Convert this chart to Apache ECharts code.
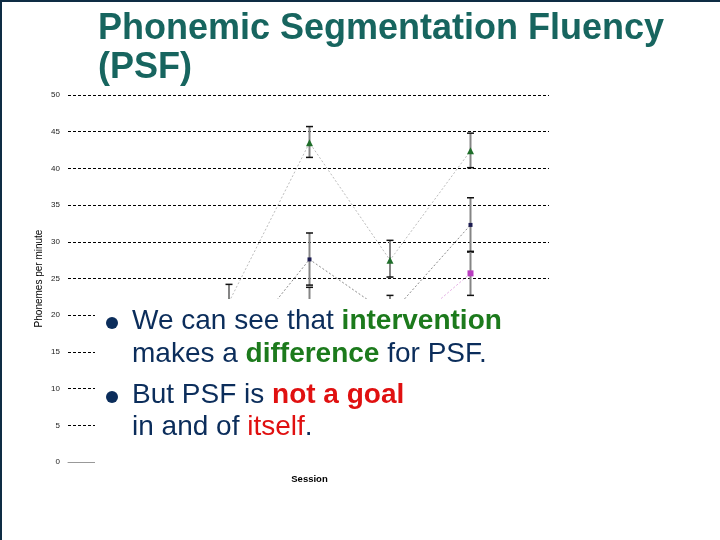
<!DOCTYPE html>
<html>
<head>
<meta charset="utf-8">
<script src="https://cdn.jsdelivr.net/npm/echarts@6/dist/echarts.min.js"></script>
<style>
html,body{margin:0;padding:0;background:#fff;}
#chart{width:720px;height:540px;}
</style>
</head>
<body>
<div id="chart"></div>
<script>
// ---- data ----
const sessions = [2, 3, 4, 5];
const yTicks = [0, 5, 10, 15, 20, 25, 30, 35, 40, 45, 50];

const greenMean = [21.8, 43.5, 27.5, 42.4];
const greenLow  = [19.0, 41.5, 25.2, 40.1];
const greenHigh = [24.2, 45.7, 30.2, 44.8];

const navyMean = [14.0, 27.6, 20.0, 32.3];
const navyLow  = [11.0, 24.1, 17.3, 28.6];
const navyHigh = [17.0, 31.2, 22.7, 36.0];

const purpleMean = [12.0, 20.0, 16.3, 25.7];
const purpleLow  = [9.0, 17.0, 13.0, 22.7];
const purpleHigh = [15.0, 23.8, 19.5, 28.7];

const titleLines = ['Phonemic Segmentation Fluency', '(PSF)'];
const yAxisName = 'Phonemes per minute';
const xAxisName = 'Session';

// ---- build ----
const chart = echarts.init(document.getElementById('chart'), null, {renderer: 'canvas'});

function pairs(xs, ys) { return xs.map((x, i) => [x, ys[i]]); }
function errData(xs, lo, hi) { return xs.map((x, i) => [x, lo[i], hi[i]]); }

function errorSeries(name, xs, lo, hi) {
  return {
    name: name,
    type: 'custom',
    z: 3,
    data: errData(xs, lo, hi),
    renderItem: function (params, api) {
      const x = api.value(0);
      const pLo = api.coord([x, api.value(1)]);
      const pHi = api.coord([x, api.value(2)]);
      const w = 3.5;
      return {
        type: 'group',
        children: [
          {type: 'line', shape: {x1: pLo[0], y1: pLo[1], x2: pHi[0], y2: pHi[1]},
           style: {stroke: '#858585', lineWidth: 2}},
          {type: 'line', shape: {x1: pHi[0] - w, y1: pHi[1], x2: pHi[0] + w, y2: pHi[1]},
           style: {stroke: '#111', lineWidth: 1.5}},
          {type: 'line', shape: {x1: pLo[0] - w, y1: pLo[1], x2: pLo[0] + w, y2: pLo[1]},
           style: {stroke: '#111', lineWidth: 1.5}}
        ]
      };
    }
  };
}

function lineSeries(name, data, lineColor, symbol, size, symColor) {
  return {
    name: name,
    type: 'line',
    z: 4,
    data: data,
    symbol: symbol,
    symbolSize: size,
    itemStyle: {color: symColor},
    lineStyle: {color: lineColor, width: 1, type: [2, 2]},
    animation: false
  };
}

const bodyFont = 'Liberation Sans, Arial, sans-serif';
const navyText = '#0b2d5b';
const greenText = '#1c7a1c';
const redText = '#e01010';
const fs = 28;
const off = 0.3465 * fs;

function richLine(x, baseline, text) {
  return {
    type: 'text', x: x, y: baseline - off, z: 101,
    style: {
      text: text,
      verticalAlign: 'middle',
      font: fs + 'px ' + bodyFont,
      fill: navyText,
      rich: {
        n: {fontSize: fs, fontFamily: bodyFont, fill: navyText},
        g: {fontSize: fs, fontFamily: bodyFont, fill: greenText, fontWeight: 'bold'},
        r: {fontSize: fs, fontFamily: bodyFont, fill: redText, fontWeight: 'bold'},
        rr: {fontSize: fs, fontFamily: bodyFont, fill: redText}
      }
    }
  };
}

const option = {
  animation: false,
  backgroundColor: '#fff',
  grid: {left: 68, right: 169, top: 95, bottom: 78},
  xAxis: {
    type: 'value', min: 0, max: 6,
    name: xAxisName, nameLocation: 'middle', nameGap: 12,
    nameTextStyle: {fontSize: 9.5, fontWeight: 'bold', color: '#000', fontFamily: 'Liberation Sans, Arial'},
    axisLine: {show: true, lineStyle: {color: '#999', width: 1}},
    axisTick: {show: false},
    axisLabel: {show: false},
    splitLine: {show: false}
  },
  yAxis: {
    type: 'value', min: 0, max: 50, interval: 5,
    name: yAxisName, nameLocation: 'middle', nameGap: 24, nameMoveOverlap: false,
    nameTextStyle: {fontSize: 10, color: '#000', fontFamily: 'Liberation Sans, Arial'},
    axisLine: {show: false},
    axisTick: {show: false},
    axisLabel: {fontSize: 8, color: '#222', margin: 8, fontFamily: 'Liberation Sans, Arial',
      formatter: function (v) { return yTicks.indexOf(v) >= 0 ? String(v) : ''; }},
    splitLine: {show: true, lineStyle: {color: '#000', width: 1, type: [3, 2]}}
  },
  series: [
    lineSeries('green', pairs(sessions, greenMean), '#bdbdbd', 'triangle', 7, '#1f6e2a'),
    lineSeries('navy', pairs(sessions, navyMean), '#8c8c8c', 'rect', 4, '#1b1b50'),
    lineSeries('purple', pairs(sessions, purpleMean), '#e2a8e2', 'rect', 6, '#b83cbf'),
    errorSeries('green err', sessions, greenLow, greenHigh),
    errorSeries('navy err', sessions, navyLow, navyHigh),
    errorSeries('purple err', sessions, purpleLow, purpleHigh)
  ],
  graphic: [
    {type: 'rect', z: 100, shape: {x: 95, y: 299, width: 480, height: 173}, style: {fill: '#fff'}},
    {type: 'rect', z: 100, shape: {x: 549, y: 90, width: 10, height: 210}, style: {fill: '#fff'}},
    {type: 'rect', z: 102, shape: {x: 0, y: 0, width: 720, height: 2}, style: {fill: '#0e2c44'}},
    {type: 'rect', z: 102, shape: {x: 0, y: 0, width: 2, height: 540}, style: {fill: '#0e2c44'}},
    {type: 'text', x: 98, y: 42 - 0.3465 * 36, z: 101,
     style: {text: titleLines[0], verticalAlign: 'middle', font: 'bold 36px Liberation Sans, Arial', fill: '#17655f'}},
    {type: 'text', x: 98, y: 81 - 0.3465 * 36, z: 101,
     style: {text: titleLines[1], verticalAlign: 'middle', font: 'bold 36px Liberation Sans, Arial', fill: '#17655f'}},
    {type: 'circle', z: 101, shape: {cx: 112, cy: 323, r: 6}, style: {fill: '#0b2d5b'}},
    {type: 'circle', z: 101, shape: {cx: 112, cy: 397, r: 6}, style: {fill: '#0b2d5b'}},
    richLine(132, 331, '{n|We can see that }{g|intervention}'),
    richLine(132, 364, '{n|makes a }{g|difference}{n| for PSF.}'),
    richLine(132, 405, '{n|But PSF is }{r|not a goal}'),
    richLine(132, 437, '{n|in and of }{rr|itself}{n|.}')
  ]
};
chart.setOption(option);
</script>
</body>
</html>
